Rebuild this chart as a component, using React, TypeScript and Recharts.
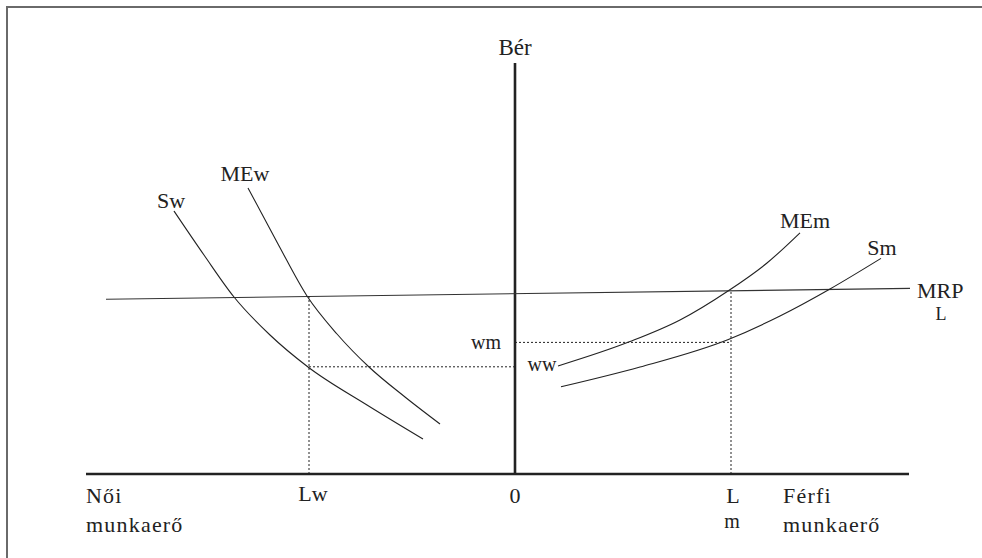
import React from "react";
import { ComposedChart, Line, Scatter, XAxis, YAxis } from "recharts";

// Units: labour quantity (women negative, men positive) and wage.
const xAxisLine = [{ x: -107.25, y: 0 }, { x: 98.5, y: 0 }];
const yAxisLine = [{ x: 0, y: 0 }, { x: 0, y: 102.75 }];

const mrpL = [{ x: -102.25, y: 43.7 }, { x: 98.75, y: 46.4 }];

const supplyW = [
  { x: -85.25, y: 65.75 },
  { x: -77.75, y: 54.75 },
  { x: -70.25, y: 44.25 },
  { x: -61.25, y: 34.75 },
  { x: -51.75, y: 26.75 },
  { x: -37, y: 17.25 },
  { x: -23, y: 8.75 },
];

const marginalExpW = [
  { x: -66.75, y: 71.5 },
  { x: -59.25, y: 57.5 },
  { x: -52, y: 44.5 },
  { x: -44.5, y: 35 },
  { x: -36.5, y: 26.75 },
  { x: -27.5, y: 19.25 },
  { x: -18.75, y: 12.5 },
];

const marginalExpM = [
  { x: 10.75, y: 27 },
  { x: 28.75, y: 33.1 },
  { x: 41.25, y: 38.5 },
  { x: 53.25, y: 45.75 },
  { x: 63, y: 52.75 },
  { x: 71.25, y: 60.3 },
];

const supplyM = [
  { x: 11.5, y: 21.8 },
  { x: 31.25, y: 26.75 },
  { x: 53.5, y: 33.7 },
  { x: 66.25, y: 39.5 },
  { x: 78.75, y: 46.25 },
  { x: 91.5, y: 53.9 },
];

const Lw = -51.5;
const ww = 26.8;
const Lm = 54;
const wm = 32.9;
const mrpAtLw = 44.6;
const mrpAtLm = 45.75;

const dotLwV = [{ x: Lw, y: 0 }, { x: Lw, y: mrpAtLw }];
const dotWwH = [{ x: Lw, y: ww }, { x: 0, y: ww }];
const dotLmV = [{ x: Lm, y: 0 }, { x: Lm, y: mrpAtLm }];
const dotWmH = [{ x: 0, y: wm }, { x: Lm, y: wm }];

type Lbl = { x: number; y: number; text: string; anchor: string; size: number };
const labels: Lbl[] = [
  { x: 0, y: 104.75, text: "Bér", anchor: "middle", size: 23 },
  { x: -86, y: 66.5, text: "Sw", anchor: "middle", size: 22 },
  { x: -67.5, y: 73.25, text: "MEw", anchor: "middle", size: 22 },
  { x: 72.5, y: 61.5, text: "MEm", anchor: "middle", size: 22 },
  { x: 91.75, y: 54.75, text: "Sm", anchor: "middle", size: 22 },
  { x: 100.5, y: 44, text: "MRP", anchor: "start", size: 22 },
  { x: 106.5, y: 38.5, text: "L", anchor: "middle", size: 18 },
  { x: -7.25, y: 31.25, text: "wm", anchor: "middle", size: 20 },
  { x: 6.75, y: 25.75, text: "ww", anchor: "middle", size: 20 },
  { x: -107.25, y: -7.25, text: "Női", anchor: "start", size: 22 },
  { x: -107.25, y: -14.5, text: "munkaerő", anchor: "start", size: 22 },
  { x: -50.5, y: -6.75, text: "Lw", anchor: "middle", size: 22 },
  { x: 0, y: -7.25, text: "0", anchor: "middle", size: 22 },
  { x: 54.5, y: -7.25, text: "L", anchor: "middle", size: 22 },
  { x: 54.25, y: -13.5, text: "m", anchor: "middle", size: 20 },
  { x: 67, y: -7.25, text: "Férfi", anchor: "start", size: 22 },
  { x: 67, y: -14.5, text: "munkaerő", anchor: "start", size: 22 },
];

const INK = "#222";
const FONT = "'Liberation Serif', 'Times New Roman', serif";

const LabelShape = (props: any) => {
  const { cx, cy, payload } = props;
  const spacing = payload.text === "munkaerő" || payload.text === "Férfi" || payload.text === "Női" ? 1.2 : 0;
  return (
    <text
      x={cx}
      y={cy}
      textAnchor={payload.anchor}
      fontFamily={FONT}
      fontSize={payload.size}
      letterSpacing={spacing}
      fill={INK}
    >
      {payload.text}
    </text>
  );
};

const lineCommon = { dot: false, activeDot: false, isAnimationActive: false, legendType: "none" as const };

export default function App() {
  return (
    <div style={{ position: "absolute", left: 0, top: 0, width: 982, height: 558, background: "#fff", overflow: "hidden" }}>
      <div
        style={{
          position: "absolute",
          left: 6,
          top: 6,
          width: 990,
          height: 570,
          borderTop: "2px solid #6a6a6a",
          borderLeft: "2px solid #6a6a6a",
        }}
      />
      <ComposedChart width={982} height={558} margin={{ top: 0, right: 0, bottom: 0, left: 0 }}>
        <XAxis type="number" dataKey="x" domain={[-128.75, 116.75]} hide allowDataOverflow />
        <YAxis type="number" dataKey="y" domain={[-21, 118.5]} hide allowDataOverflow />
        <Line {...lineCommon} data={xAxisLine} dataKey="y" type="linear" stroke={INK} strokeWidth={2.6} />
        <Line {...lineCommon} data={yAxisLine} dataKey="y" type="linear" stroke={INK} strokeWidth={2.6} />
        <Line {...lineCommon} data={mrpL} dataKey="y" type="linear" stroke="#333" strokeWidth={1.1} />
        <Line {...lineCommon} data={supplyW} dataKey="y" type="monotone" stroke={INK} strokeWidth={1.1} />
        <Line {...lineCommon} data={marginalExpW} dataKey="y" type="monotone" stroke={INK} strokeWidth={1.1} />
        <Line {...lineCommon} data={marginalExpM} dataKey="y" type="monotone" stroke={INK} strokeWidth={1.1} />
        <Line {...lineCommon} data={supplyM} dataKey="y" type="monotone" stroke={INK} strokeWidth={1.1} />
        <Line {...lineCommon} data={dotLwV} dataKey="y" type="linear" stroke={INK} strokeWidth={1} strokeDasharray="2 2" />
        <Line {...lineCommon} data={dotWwH} dataKey="y" type="linear" stroke={INK} strokeWidth={1} strokeDasharray="2 2" />
        <Line {...lineCommon} data={dotLmV} dataKey="y" type="linear" stroke={INK} strokeWidth={1} strokeDasharray="2 2" />
        <Line {...lineCommon} data={dotWmH} dataKey="y" type="linear" stroke={INK} strokeWidth={1} strokeDasharray="2 2" />
        <Scatter data={labels} dataKey="y" shape={LabelShape} isAnimationActive={false} activeShape={LabelShape} />
      </ComposedChart>
    </div>
  );
}
